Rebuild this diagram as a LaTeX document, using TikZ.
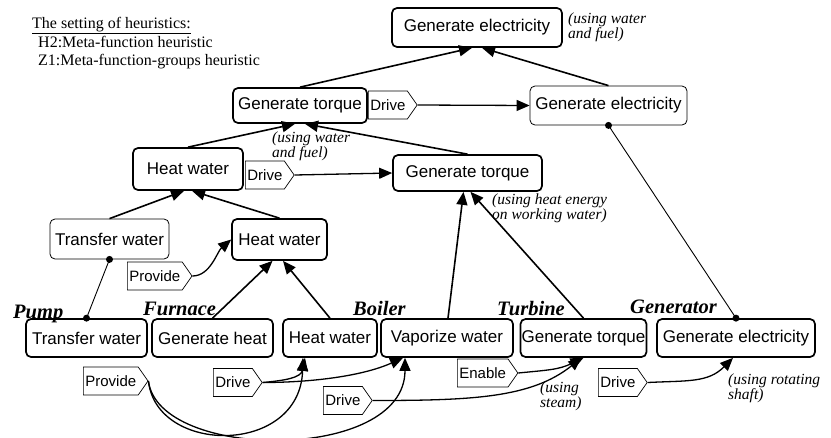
\documentclass[tikz,border=0pt]{standalone}
\usepackage{fontspec}
\setmainfont{Liberation Serif}
\newfontfamily\boxfont{Liberation Sans}
\usetikzlibrary{shapes.symbols,arrows.meta}

\begin{document}
\begin{tikzpicture}[x=1pt,y=-1pt,
  fn/.style={draw, rounded corners=5pt, line width=1.7pt,
    font=\boxfont\fontsize{17}{19}\selectfont, inner sep=0pt, minimum height=38pt},
  fnthin/.style={fn, line width=0.8pt},
  tag/.style={draw, signal, signal to=east, signal pointer angle=110, line width=0.7pt,
    font=\boxfont\fontsize{15}{17}\selectfont, inner xsep=2pt, inner ysep=0pt,
    minimum height=28pt, anchor=west},
  note/.style={font=\fontsize{15.5}{12}\selectfont\itshape, align=left, inner sep=0pt, anchor=west},
  part/.style={font=\fontsize{20.5}{22}\selectfont\bfseries\itshape, inner sep=0pt, anchor=base west},
  legend/.style={font=\fontsize{16}{18}\selectfont, inner sep=0pt, anchor=base west},
  link/.style={line width=1.6pt, -{Triangle[length=13pt,width=11pt]}},
  act/.style={line width=1.3pt, -{Triangle[length=13pt,width=11pt]}},
  pin/.style={line width=0.9pt},
  dot/.style={fill=black}
]
\fill[white] (0,0) rectangle (831,437);
\useasboundingbox (0,0) rectangle (831,437);

% legend
\node[legend] (lg1) at (32,28) {\underline{The setting of heuristics:}};
\node[legend] (lg2) at (38,47) {H2:Meta-function heuristic};
\node[legend] (lg3) at (38,65) {Z1:Meta-function-groups heuristic};

% upper function hierarchy
\node[fn, minimum width=170pt, minimum height=39pt] (geTop) at (477,27.5) {Generate electricity};
\node[note] (nTop) at (568,27) {(using water\\and fuel)};

\node[fn, minimum width=134pt, minimum height=35pt] (gtUp) at (300,105.5) {Generate torque};
\node[tag] (dUp) at (368,105) {Drive};
\node[fnthin, minimum width=157pt, minimum height=39pt] (geMid) at (608.5,105.5) {Generate electricity};

\node[fn, minimum width=110pt, minimum height=42pt] (hwTop) at (188,169) {Heat water};
\node[tag] (dMid) at (245,175) {Drive};
\node[note] (nMid) at (272,146) {(using water\\and fuel)};
\node[fn, minimum width=149pt, minimum height=36pt] (gtMid) at (467.5,173) {Generate torque};
\node[note] (nHeat) at (492,208) {(using heat energy\\on working water)};

\node[fnthin, minimum width=119pt, minimum height=40pt] (twUp) at (109.5,239) {Transfer water};
\node[fn, minimum width=95pt, minimum height=41pt] (hwUp) at (279.5,239.5) {Heat water};
\node[tag] (pUp) at (127,276) {Provide};

% components
\node[part] (cPump) at (13,318) {Pump};
\node[part] (cFurn) at (143,315) {Furnace};
\node[part] (cBoil) at (353,315) {Boiler};
\node[part] (cTurb) at (497,315) {Turbine};
\node[part] (cGen) at (630,313) {Generator};

\node[fn, minimum width=121pt] (twB) at (86.5,338) {Transfer water};
\node[fn, minimum width=121pt] (ghB) at (212.5,338) {Generate heat};
\node[fn, minimum width=94pt] (hwB) at (330,338) {Heat water};
\node[fn, minimum width=132pt] (vwB) at (447,338) {Vaporize water};
\node[fn, minimum width=126pt] (gtB) at (583.5,338) {Generate torque};
\node[fn, minimum width=158pt] (geB) at (736,338) {Generate electricity};

% ways of achievement
\node[tag] (pB) at (83,381) {Provide};
\node[tag] (dB1) at (213,382.5) {Drive};
\node[tag] (en) at (457,373) {Enable};
\node[tag] (dB2) at (323,400.5) {Drive};
\node[tag] (dB3) at (598,382.5) {Drive};
\node[note] (nSteam) at (540,396) {(using\\steam)};
\node[note] (nShaft) at (728,388) {(using rotating\\shaft)};

% is-achieved-by links
\draw[link] (gtUp.north) -- ([xshift=-5pt]geTop.south);
\draw[link] (geMid.north) -- ([xshift=5pt]geTop.south);
\draw[act] (dUp.east) -- (geMid.west);
\draw[link] (hwTop.north) -- ([xshift=-5pt]gtUp.south);
\draw[link] (gtMid.north) -- ([xshift=5pt]gtUp.south);
\draw[act] (dMid.east) -- (gtMid.west);
\draw[link] (twUp.north) -- ([xshift=-4pt]hwTop.south);
\draw[link] (hwUp.north) -- ([xshift=4pt]hwTop.south);
\draw[act] (pUp.east) .. controls +(18,0) and +(-14,12) .. (hwUp.west);
\draw[link] (ghB.north) -- ([xshift=-7pt]hwUp.south);
\draw[link] (hwB.north) -- ([xshift=3.5pt]hwUp.south);
\draw[link] ([xshift=1pt]vwB.north) -- ([xshift=-4pt]gtMid.south);
\draw[link] (gtB.north) -- ([xshift=3pt]gtMid.south);

% identity links
\draw[pin] (twUp.south) -- (twB.north);
\fill[dot] (twUp.south) circle (3.5pt);
\fill[dot] (twB.north) circle (3.5pt);
\draw[pin] (geMid.south) -- (geB.north);
\fill[dot] (geMid.south) circle (3.5pt);
\fill[dot] (geB.north) circle (3.5pt);

% component-level ways
\draw[act] (pB.east) .. controls +(8,74) and +(-3,98) .. ([xshift=-27pt]hwB.south);
\draw[act] (pB.east) .. controls +(10,80) and +(0,105) .. ([xshift=-42pt]vwB.south);
\draw[act] (dB1.east) .. controls +(22,-2) and +(-4,20) .. ([xshift=-25pt]hwB.south);
\draw[act] (dB1.east) .. controls +(50,0) and +(-40,18) .. ([xshift=-44pt]vwB.south);
\draw[act] (en.east) .. controls +(30,-3) and +(-25,12) .. (gtB.south);
\draw[act] (dB2.east) .. controls +(100,0) and +(-50,40) .. ([xshift=-2pt]gtB.south);
\draw[act] (dB3.east) .. controls +(40,-2) and +(-25,25) .. ([xshift=-3pt]geB.south);
\end{tikzpicture}
\end{document}
